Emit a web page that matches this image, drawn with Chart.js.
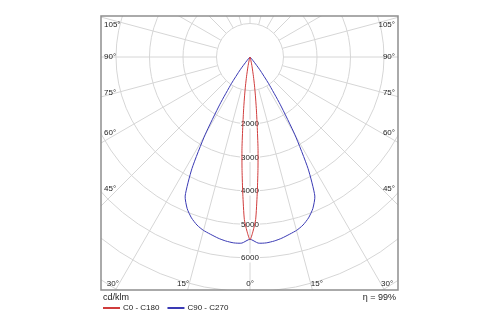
<!DOCTYPE html>
<html>
<head>
<meta charset="utf-8">
<script src="https://cdn.jsdelivr.net/npm/chart.js@4.4.1/dist/chart.umd.min.js"></script>
<style>
  html, body { margin: 0; padding: 0; background: #fff; }
</style>
</head>
<body>
<canvas id="ldc" width="500" height="325"></canvas>
<script>
// gamma angle (deg from nadir) and luminous intensity (cd/klm)
const c0Angles = [0, 1, 2, 3, 4, 5, 6, 7, 8, 9, 10, 12, 14, 16, 18]
const c0Values = [5460, 5200, 4850, 4100, 3400, 2750, 2050, 1550, 1150, 850, 600, 300, 120, 30, 0]

const c90Angles = [0, 2.5, 5, 7.5, 10, 15, 17.5, 20, 22.5, 25, 27.5, 30, 32.5, 35, 37.5, 40, 42.5]
const c90Values = [5440, 5560, 5570, 5540, 5490, 5360, 5260, 5110, 4900, 4580, 3750, 2680, 1670, 960, 480, 150, 0]

const rings = [1000, 2000, 3000, 4000, 5000, 6000, 7000, 8000, 9000]
const ringLabels = [2000, 3000, 4000, 5000, 6000]
const angleLabels = [0, 15, 30, 45, 60, 75, 90, 105]
const seriesNames = ['C0 - C180', 'C90 - C270']
const seriesColors = ['#d03c3c', '#3a3ab4']
const unitText = 'cd/klm'
const etaText = 'η = 99%'

const FONT = '"Liberation Sans", Arial, sans-serif'

// mirror one C-plane pair into a closed polar curve (x right, y up)
function polarCurve(angles, values) {
  const pts = []
  for (let i = angles.length - 1; i >= 0; i--) {
    const t = angles[i] * Math.PI / 180
    pts.push({ x: -values[i] * Math.sin(t), y: -values[i] * Math.cos(t) })
  }
  for (let i = 1; i < angles.length; i++) {
    const t = angles[i] * Math.PI / 180
    pts.push({ x: values[i] * Math.sin(t), y: -values[i] * Math.cos(t) })
  }
  return pts
}

const polarGrid = {
  id: 'polarGrid',
  beforeDatasetsDraw(chart) {
    const { ctx, chartArea: a, scales: { x, y } } = chart
    const cx = x.getPixelForValue(0)
    const cy = y.getPixelForValue(0)
    const unit = x.getPixelForValue(1000) - cx

    ctx.save()
    ctx.beginPath()
    ctx.rect(a.left, a.top, a.right - a.left, a.bottom - a.top)
    ctx.clip()
    ctx.strokeStyle = '#d6d6d6'
    ctx.lineWidth = 1
    rings.forEach(v => {
      ctx.beginPath()
      ctx.arc(cx, cy, v / 1000 * unit, 0, Math.PI * 2)
      ctx.stroke()
    })
    for (let deg = 0; deg < 360; deg += 15) {
      const t = deg * Math.PI / 180
      ctx.beginPath()
      ctx.moveTo(cx + unit * Math.sin(t), cy + unit * Math.cos(t))
      ctx.lineTo(cx + 400 * Math.sin(t), cy + 400 * Math.cos(t))
      ctx.stroke()
    }

    ctx.font = '8px ' + FONT
    ctx.textAlign = 'center'
    ctx.textBaseline = 'middle'
    ringLabels.forEach(v => {
      const py = y.getPixelForValue(-v)
      const w = ctx.measureText(String(v)).width
      ctx.fillStyle = '#fff'
      ctx.fillRect(cx - w / 2 - 1, py - 4.5, w + 2, 9)
      ctx.fillStyle = '#222'
      ctx.fillText(String(v), cx, py)
    })
    ctx.restore()
  },
  afterDraw(chart) {
    const { ctx, chartArea: a, scales: { x, y } } = chart
    const cx = x.getPixelForValue(0)
    const cy = y.getPixelForValue(0)

    ctx.save()
    ctx.strokeStyle = '#8e8e8e'
    ctx.lineWidth = 1.5
    ctx.strokeRect(a.left, a.top, a.right - a.left, a.bottom - a.top)

    // angle labels along the frame
    ctx.font = '8px ' + FONT
    ctx.fillStyle = '#222'
    ctx.textBaseline = 'middle'
    const sideX = cx - a.left - 17
    const baseY = a.bottom - 6
    angleLabels.forEach(deg => {
      const t = deg * Math.PI / 180
      const txt = deg + '°'
      const hitX = (baseY - cy) * Math.tan(t)
      for (const s of deg === 0 ? [0] : [-1, 1]) {
        if (deg < 90 && hitX <= sideX) {
          ctx.textAlign = s === 0 ? 'center' : (s < 0 ? 'right' : 'left')
          ctx.fillText(txt, cx + s * hitX, baseY)
        } else {
          const py = Math.max(cy + sideX / Math.tan(t), a.top + 9)
          ctx.textAlign = s < 0 ? 'left' : 'right'
          ctx.fillText(txt, s < 0 ? a.left + 3 : a.right - 3, py)
        }
      }
    })

    // footer: unit, efficiency and legend
    ctx.font = '9px ' + FONT
    ctx.textAlign = 'left'
    ctx.fillText(unitText, a.left + 2, a.bottom + 8)
    ctx.textAlign = 'right'
    ctx.fillText(etaText, a.right - 2, a.bottom + 8)

    ctx.font = '8px ' + FONT
    ctx.textAlign = 'left'
    let lx = a.left + 2
    const ly = a.bottom + 18
    chart.data.datasets.forEach(ds => {
      ctx.strokeStyle = ds.borderColor
      ctx.lineWidth = 2
      ctx.beginPath()
      ctx.moveTo(lx, ly)
      ctx.lineTo(lx + 17, ly)
      ctx.stroke()
      ctx.fillStyle = '#222'
      ctx.fillText(ds.label, lx + 20, ly)
      lx += 20 + ctx.measureText(ds.label).width + 8
    })
    ctx.restore()
  }
}

// frame box and polar centre in canvas pixels, 33.5 px per 1000 cd/klm
const box = { left: 101, top: 16, right: 398, bottom: 290 }
const centre = { x: 250, y: 57 }
const pxPerUnit = 33.5 / 1000

new Chart(document.getElementById('ldc'), {
  type: 'scatter',
  data: {
    datasets: [
      {
        label: seriesNames[0],
        data: polarCurve(c0Angles, c0Values),
        borderColor: seriesColors[0],
        borderWidth: 1,
        showLine: true,
        pointRadius: 0,
        tension: 0.2
      },
      {
        label: seriesNames[1],
        data: polarCurve(c90Angles, c90Values),
        borderColor: seriesColors[1],
        borderWidth: 1,
        showLine: true,
        pointRadius: 0,
        tension: 0.2
      }
    ]
  },
  plugins: [polarGrid],
  options: {
    responsive: false,
    animation: false,
    devicePixelRatio: 1,
    layout: {
      padding: { left: box.left, top: box.top, right: 500 - box.right, bottom: 325 - box.bottom }
    },
    plugins: {
      legend: { display: false },
      tooltip: { enabled: false }
    },
    scales: {
      x: {
        display: false,
        min: -(centre.x - box.left) / pxPerUnit,
        max: (box.right - centre.x) / pxPerUnit
      },
      y: {
        display: false,
        min: -(box.bottom - centre.y) / pxPerUnit,
        max: (centre.y - box.top) / pxPerUnit
      }
    }
  }
})
</script>
</body>
</html>
